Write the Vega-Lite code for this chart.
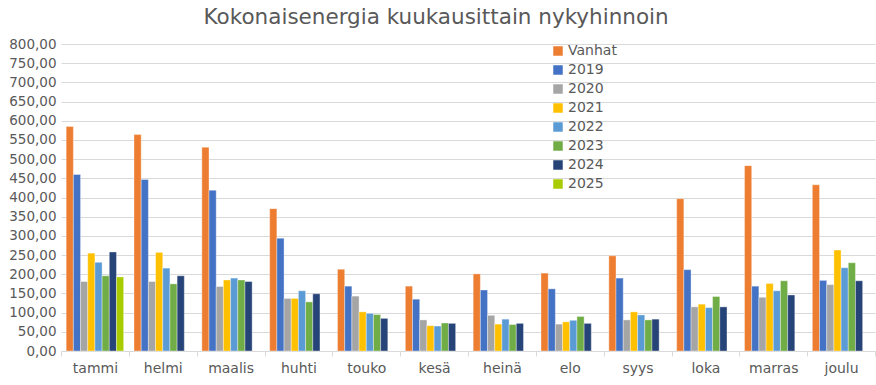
{
  "$schema": "https://vega.github.io/schema/vega-lite/v6.json",
  "width": 876,
  "height": 385,
  "autosize": {"type": "fit", "contains": "padding"},
  "padding": {"left": 8, "right": 0, "top": 6, "bottom": 10},
  "background": "white",
  "title": {"text": "Kokonaisenergia kuukausittain nykyhinnoin", "font": "DejaVu Sans", "fontSize": 21.5, "fontWeight": "normal", "color": "#595959", "anchor": "middle", "frame": "bounds", "offset": 9, "dx": -6},
  "data": {"values": [
    {"kk": "tammi", "s": "Vanhat", "v": 585}, {"kk": "tammi", "s": "2019", "v": 460}, {"kk": "tammi", "s": "2020", "v": 181}, {"kk": "tammi", "s": "2021", "v": 255}, {"kk": "tammi", "s": "2022", "v": 231}, {"kk": "tammi", "s": "2023", "v": 196}, {"kk": "tammi", "s": "2024", "v": 258}, {"kk": "tammi", "s": "2025", "v": 193},
    {"kk": "helmi", "s": "Vanhat", "v": 564}, {"kk": "helmi", "s": "2019", "v": 447}, {"kk": "helmi", "s": "2020", "v": 181}, {"kk": "helmi", "s": "2021", "v": 257}, {"kk": "helmi", "s": "2022", "v": 216}, {"kk": "helmi", "s": "2023", "v": 175}, {"kk": "helmi", "s": "2024", "v": 196},
    {"kk": "maalis", "s": "Vanhat", "v": 531}, {"kk": "maalis", "s": "2019", "v": 419}, {"kk": "maalis", "s": "2020", "v": 168}, {"kk": "maalis", "s": "2021", "v": 185}, {"kk": "maalis", "s": "2022", "v": 190}, {"kk": "maalis", "s": "2023", "v": 185}, {"kk": "maalis", "s": "2024", "v": 181},
    {"kk": "huhti", "s": "Vanhat", "v": 371}, {"kk": "huhti", "s": "2019", "v": 294}, {"kk": "huhti", "s": "2020", "v": 137}, {"kk": "huhti", "s": "2021", "v": 137}, {"kk": "huhti", "s": "2022", "v": 157}, {"kk": "huhti", "s": "2023", "v": 128}, {"kk": "huhti", "s": "2024", "v": 149},
    {"kk": "touko", "s": "Vanhat", "v": 213}, {"kk": "touko", "s": "2019", "v": 169}, {"kk": "touko", "s": "2020", "v": 143}, {"kk": "touko", "s": "2021", "v": 102}, {"kk": "touko", "s": "2022", "v": 98}, {"kk": "touko", "s": "2023", "v": 95}, {"kk": "touko", "s": "2024", "v": 85},
    {"kk": "kesä", "s": "Vanhat", "v": 169}, {"kk": "kesä", "s": "2019", "v": 135}, {"kk": "kesä", "s": "2020", "v": 81}, {"kk": "kesä", "s": "2021", "v": 66}, {"kk": "kesä", "s": "2022", "v": 65}, {"kk": "kesä", "s": "2023", "v": 73}, {"kk": "kesä", "s": "2024", "v": 72},
    {"kk": "heinä", "s": "Vanhat", "v": 201}, {"kk": "heinä", "s": "2019", "v": 159}, {"kk": "heinä", "s": "2020", "v": 93}, {"kk": "heinä", "s": "2021", "v": 70}, {"kk": "heinä", "s": "2022", "v": 83}, {"kk": "heinä", "s": "2023", "v": 69}, {"kk": "heinä", "s": "2024", "v": 72},
    {"kk": "elo", "s": "Vanhat", "v": 203}, {"kk": "elo", "s": "2019", "v": 162}, {"kk": "elo", "s": "2020", "v": 70}, {"kk": "elo", "s": "2021", "v": 76}, {"kk": "elo", "s": "2022", "v": 80}, {"kk": "elo", "s": "2023", "v": 90}, {"kk": "elo", "s": "2024", "v": 72},
    {"kk": "syys", "s": "Vanhat", "v": 248}, {"kk": "syys", "s": "2019", "v": 190}, {"kk": "syys", "s": "2020", "v": 81}, {"kk": "syys", "s": "2021", "v": 102}, {"kk": "syys", "s": "2022", "v": 94}, {"kk": "syys", "s": "2023", "v": 81}, {"kk": "syys", "s": "2024", "v": 83},
    {"kk": "loka", "s": "Vanhat", "v": 397}, {"kk": "loka", "s": "2019", "v": 212}, {"kk": "loka", "s": "2020", "v": 115}, {"kk": "loka", "s": "2021", "v": 122}, {"kk": "loka", "s": "2022", "v": 113}, {"kk": "loka", "s": "2023", "v": 142}, {"kk": "loka", "s": "2024", "v": 115},
    {"kk": "marras", "s": "Vanhat", "v": 483}, {"kk": "marras", "s": "2019", "v": 169}, {"kk": "marras", "s": "2020", "v": 140}, {"kk": "marras", "s": "2021", "v": 176}, {"kk": "marras", "s": "2022", "v": 157}, {"kk": "marras", "s": "2023", "v": 183}, {"kk": "marras", "s": "2024", "v": 146},
    {"kk": "joulu", "s": "Vanhat", "v": 433}, {"kk": "joulu", "s": "2019", "v": 184}, {"kk": "joulu", "s": "2020", "v": 173}, {"kk": "joulu", "s": "2021", "v": 263}, {"kk": "joulu", "s": "2022", "v": 217}, {"kk": "joulu", "s": "2023", "v": 230}, {"kk": "joulu", "s": "2024", "v": 183}
  ]},
  "mark": {"type": "bar", "stroke": "white", "strokeWidth": 0.6, "strokeOpacity": 0.6},
  "encoding": {
    "x": {"field": "kk", "type": "nominal", "sort": ["tammi","helmi","maalis","huhti","touko","kesä","heinä","elo","syys","loka","marras","joulu"],
      "scale": {"paddingInner": 0, "paddingOuter": 0},
      "axis": {"title": null, "labelAngle": 0, "labelFont": "DejaVu Sans", "labelFontSize": 14, "labelColor": "#595959", "labelPadding": 5, "domainColor": "#d9d9d9", "tickColor": "#d9d9d9", "tickBand": "extent", "tickSize": 5, "grid": false}},
    "xOffset": {"field": "s", "type": "nominal", "sort": ["Vanhat","2019","2020","2021","2022","2023","2024","2025"],
      "scale": {"domain": ["Vanhat","2019","2020","2021","2022","2023","2024","2025"], "paddingInner": 0, "paddingOuter": 0.72}},
    "y": {"field": "v", "type": "quantitative",
      "scale": {"domain": [0, 800], "nice": false},
      "axis": {"title": null, "values": [0,50,100,150,200,250,300,350,400,450,500,550,600,650,700,750,800],
        "labelOverlap": false, "labelBound": false,
        "labelExpr": "replace(format(datum.value, '.2f'), '.', ',')", "labelFont": "DejaVu Sans", "labelFontSize": 13.5, "labelColor": "#595959",
        "domain": false, "ticks": false, "labelPadding": 5, "gridColor": "#d9d9d9", "gridWidth": 1}},
    "color": {"field": "s", "type": "nominal", "sort": ["Vanhat","2019","2020","2021","2022","2023","2024","2025"],
      "scale": {"domain": ["Vanhat","2019","2020","2021","2022","2023","2024","2025"], "range": ["#ED7D31","#4472C4","#A5A5A5","#FFC000","#5B9BD5","#70AD47","#264478","#A9CC00"]},
      "legend": {"title": null, "orient": "none", "legendX": 490, "legendY": 0, "symbolType": "square", "symbolSize": 90, "symbolStrokeWidth": 0, "labelFont": "DejaVu Sans", "labelFontSize": 14, "labelColor": "#595959", "rowPadding": 5, "labelOffset": 3}}
  },
  "config": {"view": {"stroke": null}}
}
